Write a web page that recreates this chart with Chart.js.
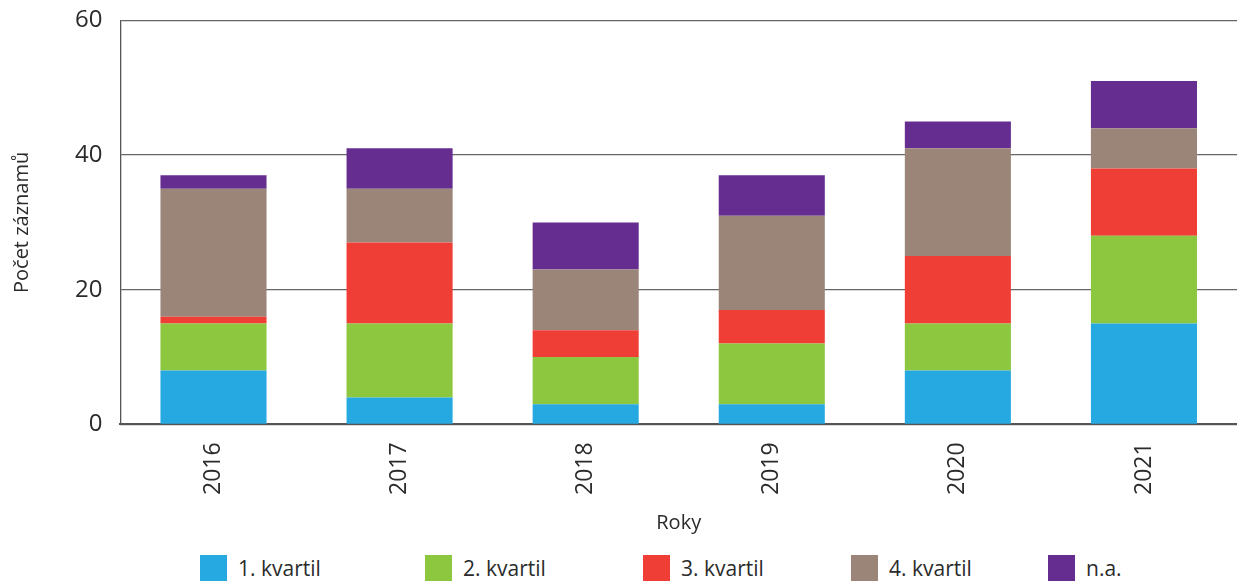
<!DOCTYPE html>
<html>
<head>
<meta charset="utf-8">
<script src="https://cdn.jsdelivr.net/npm/chart.js@4/dist/chart.umd.min.js"></script>
<style>
  html, body { margin: 0; padding: 0; background: #fff; overflow: hidden; }
  #wrap { position: relative; width: 1237px; height: 581px; overflow: hidden; font-family: 'Open Sans', sans-serif; }
  #kvartilChart { position: absolute; left: 0; top: -12px; }
  .legend-item { position: absolute; top: 555px; display: flex; align-items: flex-start; color: #2b2b2b; font-size: 21px; line-height: 27px; white-space: nowrap; }
  .legend-box { width: 27px; height: 27px; margin-right: 11px; flex: none; }
</style>
</head>
<body>
<div id="wrap">
  <canvas id="kvartilChart" width="1237" height="551"></canvas>
  <div id="legend"></div>
</div>
<script>
const years = ['2016', '2017', '2018', '2019', '2020', '2021'];
const q1 = [8, 4, 3, 3, 8, 15];
const q2 = [7, 11, 7, 9, 7, 13];
const q3 = [1, 12, 4, 5, 10, 10];
const q4 = [19, 8, 9, 14, 16, 6];
const na = [2, 6, 7, 6, 4, 7];
const seriesNames = ['1. kvartil', '2. kvartil', '3. kvartil', '4. kvartil', 'n.a.'];

const colors = ['#25a9e0', '#8dc63f', '#ef3e36', '#9b8579', '#652d90'];
const legendLeft = [200, 425, 643, 851, 1048];
const textColor = '#2b2b2b';

Chart.defaults.font.family = "'Open Sans', Lato, sans-serif";
Chart.defaults.color = textColor;

const seriesData = [q1, q2, q3, q4, na];

const chart = new Chart(document.getElementById('kvartilChart'), {
    type: 'bar',
    data: {
        labels: years,
        datasets: seriesData.map((d, i) => ({
            label: seriesNames[i],
            data: d,
            backgroundColor: colors[i],
            borderWidth: 0,
            barPercentage: 0.57,
            categoryPercentage: 1
        }))
    },
    options: {
        responsive: false,
        animation: false,
        layout: { padding: { top: 0, right: 0, left: 10, bottom: 0 } },
        plugins: {
            tooltip: { enabled: false },
            legend: { display: false }
        },
        scales: {
            x: {
                stacked: true,
                grid: { display: false },
                border: { color: '#555', width: 2 },
                ticks: {
                    minRotation: 90,
                    maxRotation: 90,
                    padding: 10,
                    color: textColor,
                    font: { size: 23 }
                },
                title: {
                    display: true,
                    text: 'Roky',
                    color: textColor,
                    font: { size: 20 },
                    padding: { top: 6, bottom: 4 }
                }
            },
            y: {
                stacked: true,
                min: 0,
                max: 60,
                grid: { color: '#666', lineWidth: 1.3, drawTicks: false },
                border: { color: '#555', width: 1.3 },
                ticks: {
                    stepSize: 20,
                    padding: 18,
                    color: textColor,
                    font: { size: 24 }
                },
                title: {
                    display: true,
                    text: 'Počet záznamů',
                    color: textColor,
                    font: { size: 20 },
                    padding: { top: 0, bottom: 23 }
                }
            }
        }
    }
});

// legend below the canvas
const legendEl = document.getElementById('legend');
chart.data.datasets.forEach((ds, i) => {
    const item = document.createElement('div');
    item.className = 'legend-item';
    item.style.left = legendLeft[i] + 'px';
    const box = document.createElement('span');
    box.className = 'legend-box';
    box.style.background = ds.backgroundColor;
    const txt = document.createElement('span');
    txt.textContent = ds.label;
    item.appendChild(box);
    item.appendChild(txt);
    legendEl.appendChild(item);
});
</script>
</body>
</html>
